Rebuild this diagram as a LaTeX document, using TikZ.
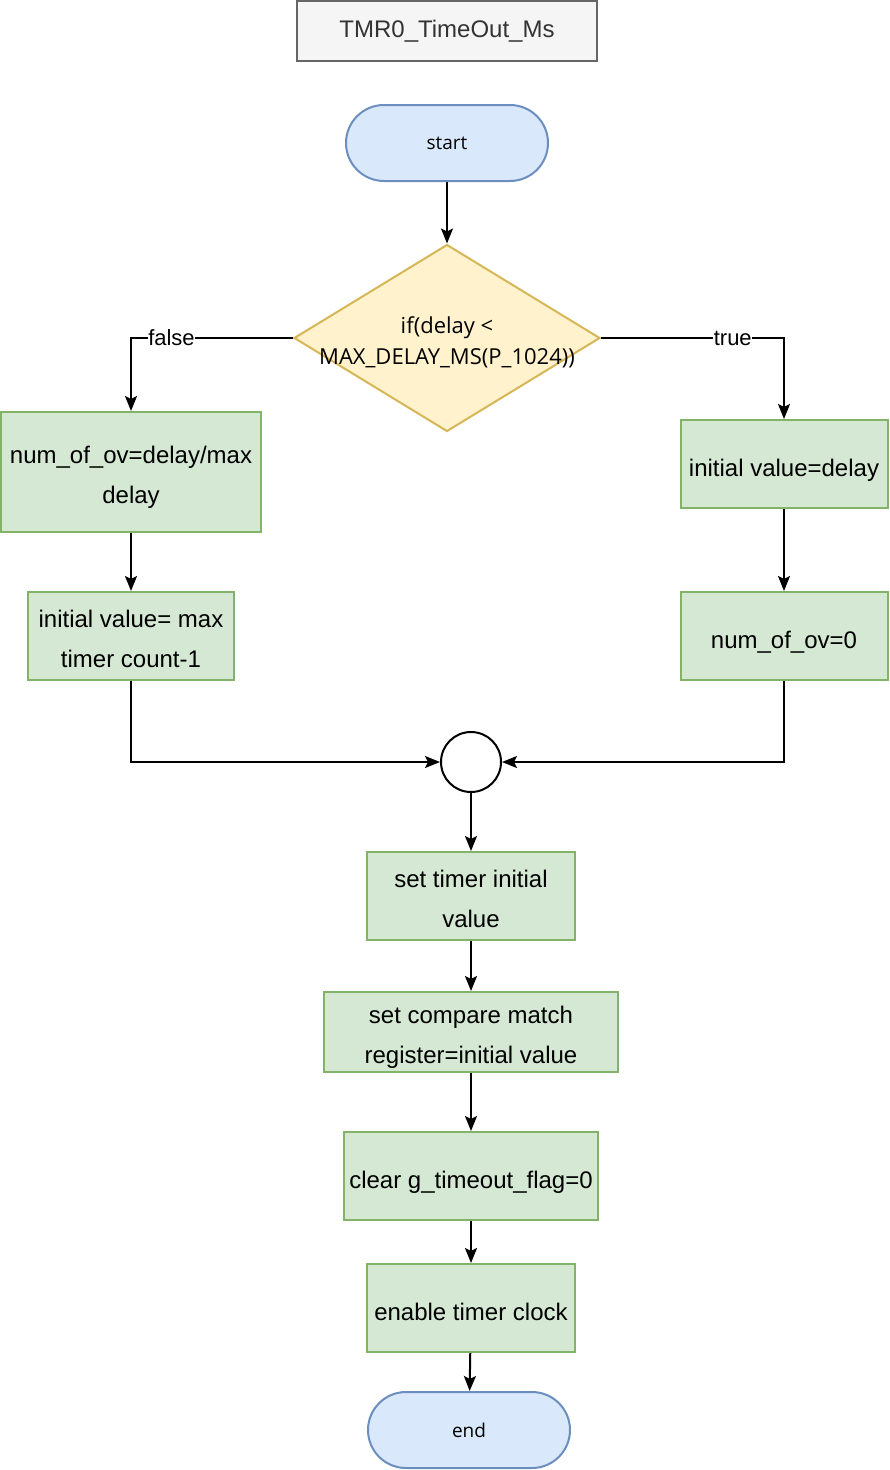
\documentclass[tikz,border=0pt]{standalone}
\usepackage{fontspec}
\setmainfont{Liberation Sans}
\newfontfamily\opensans{Open Sans}
\usetikzlibrary{shapes.geometric,arrows.meta}

\definecolor{procfill}{HTML}{D5E8D4}
\definecolor{procline}{HTML}{82B366}
\definecolor{termfill}{HTML}{DAE8FC}
\definecolor{termline}{HTML}{6C8EBF}
\definecolor{condfill}{HTML}{FFF2CC}
\definecolor{condline}{HTML}{D6B656}
\definecolor{namefill}{HTML}{F5F5F5}
\definecolor{nameline}{HTML}{666666}
\definecolor{nametext}{HTML}{333333}

\tikzset{
  proc/.style={draw=procline, fill=procfill, line width=2pt, inner sep=2pt,
    align=center, font=\fontsize{24}{40}\selectfont, minimum height=88pt,
    text height=31pt, text depth=7pt},
  twoline/.style={text height=67pt, text depth=5pt},
  term/.style={draw=termline, fill=termfill, line width=2pt, rounded corners=38pt,
    minimum width=202pt, minimum height=76pt, font=\opensans\fontsize{19}{26}\selectfont},
  cond/.style={diamond, draw=condline, fill=condfill, line width=2pt, inner sep=0pt,
    minimum width=306pt, minimum height=187pt},
  condtext/.style={align=center, font=\opensans\fontsize{22}{31}\selectfont},
  merge/.style={circle, draw, line width=2pt, minimum size=60pt, inner sep=0pt},
  namebox/.style={draw=nameline, fill=namefill, line width=2pt, text=nametext,
    minimum width=300pt, minimum height=60pt, font=\fontsize{24}{30}\selectfont},
  edgelabel/.style={fill=white, inner sep=0.5pt, font=\fontsize{22}{26}\selectfont},
  line/.style={line width=2pt, -{Stealth[length=15pt,width=12pt,inset=3pt]}}
}

\begin{document}
\begin{tikzpicture}[x=1pt,y=-1pt]
  \useasboundingbox (0,0) rectangle (890,1470);

  % title and start
  \node[namebox] (title) at (447,31) {TMR0\_TimeOut\_Ms};
  \node[term] (start) at (447,143) {start};
  \node[cond] (cond) at (447,338) {};
  \node[condtext] (condtxt) at (447,342) {if(delay <\\MAX\_DELAY\_MS(P\_1024))};

  % false branch
  \node[proc, twoline, minimum width=260pt, minimum height=120pt] (ovbox) at (131,472) {num\_of\_ov=delay/max\\delay};
  \node[proc, twoline, minimum width=206pt] (maxbox) at (131,636) {initial value= max\\timer count-1};

  % true branch
  \node[proc, minimum width=207pt] (initbox) at (784,464) {initial value=delay};
  \node[proc, minimum width=207pt] (zerobox) at (784,636) {num\_of\_ov=0};

  % common part
  \node[merge] (join) at (471,762) {};
  \node[proc, twoline, minimum width=208pt] (settimer) at (471,896) {set timer initial\\value};
  \node[proc, twoline, minimum width=294pt, minimum height=80pt] (compare) at (471,1032) {set compare match\\register=initial value};
  \node[proc, minimum width=254pt] (clear) at (471,1176) {clear g\_timeout\_flag=0};
  \node[proc, minimum width=208pt] (enable) at (471,1308) {enable timer clock};
  \node[term] (end) at (469,1430) {end};

  \draw[line] (start) -- (cond);
  \draw[line] (cond.west) -| node[edgelabel, pos=0.375] {false} (ovbox.north);
  \draw[line] (cond.east) -| node[edgelabel, pos=0.36] {true} (initbox.north);
  \draw[line] (ovbox) -- (maxbox);
  \draw[line] (initbox) -- (zerobox);
  \draw[line] (maxbox.south) |- (join.west);
  \draw[line] (zerobox.south) |- (join.east);
  \draw[line] (join) -- (settimer);
  \draw[line] (settimer) -- (compare);
  \draw[line] (compare) -- (clear);
  \draw[line] (clear) -- (enable);
  \draw[line] (enable) -- (end);
\end{tikzpicture}
\end{document}
